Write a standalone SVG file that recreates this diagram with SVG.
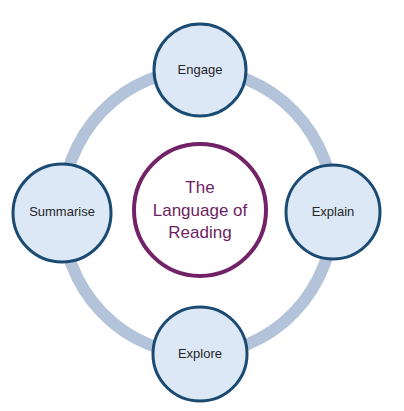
<svg xmlns="http://www.w3.org/2000/svg" width="404" height="411" viewBox="0 0 404 411">
<style>
.node circle{fill:#dce8f6;stroke:#1b4a72;stroke-width:3}
.lbl{font-family:"Liberation Sans",Arial,sans-serif;font-size:13px;fill:#262626;text-anchor:middle}
.ctr{font-family:"Liberation Sans",Arial,sans-serif;font-size:17px;fill:#6e1f63;text-anchor:middle}
</style>
<rect width="404" height="411" fill="#ffffff"/>
<g id="connectors">
<ellipse cx="198" cy="212" rx="136" ry="142" fill="none" stroke="#b3c3da" stroke-width="12"/>
</g>
<g id="center">
<circle cx="200" cy="210" r="66" fill="#ffffff" stroke="#722266" stroke-width="4"/>
<text class="ctr" x="200" y="193">The</text>
<text class="ctr" x="200" y="216">Language of</text>
<text class="ctr" x="200" y="238">Reading</text>
</g>
<g id="engage" class="node">
<circle cx="200" cy="70" r="46"/>
<text class="lbl" x="200" y="74">Engage</text>
</g>
<g id="summarise" class="node">
<circle cx="62" cy="213" r="49"/>
<text class="lbl" x="62" y="216">Summarise</text>
</g>
<g id="explain" class="node">
<circle cx="333" cy="212" r="47"/>
<text class="lbl" x="333" y="216">Explain</text>
</g>
<g id="explore" class="node">
<circle cx="200" cy="354" r="47"/>
<text class="lbl" x="200" y="358">Explore</text>
</g>
</svg>
